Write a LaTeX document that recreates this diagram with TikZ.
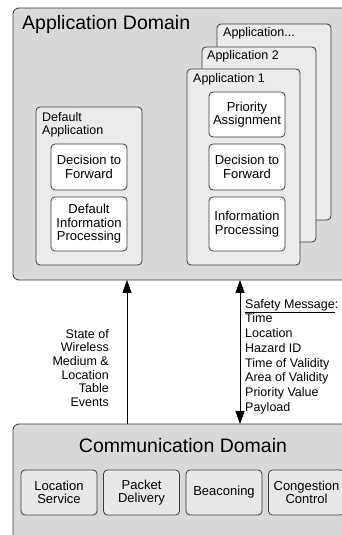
\documentclass[tikz,border=0pt]{standalone}
\usepackage{fontspec}
\setmainfont{Liberation Sans}
\usepackage{tikz}
\usetikzlibrary{arrows.meta,positioning}
\definecolor{domgrey}{RGB}{216,216,216}
\definecolor{appgrey}{RGB}{235,235,235}
\definecolor{commgrey}{RGB}{232,232,232}
\definecolor{edgegrey}{RGB}{60,60,60}
\tikzset{
  flow/.style={-{Triangle[length=13pt,width=9pt]}, line width=0.9pt, draw=black},
  twoflow/.style={flow, {Triangle[length=13pt,width=9pt]}-{Triangle[length=13pt,width=9pt]}},
  domainbox/.style={
    draw=edgegrey,
    line width=0.8pt,
    rounded corners=6pt,
    fill=domgrey,
    inner sep=0pt,
    outer sep=0pt,
    anchor=north west
  },
  appbox/.style={domainbox, fill=appgrey, rounded corners=4pt},
  funcbox/.style={
    draw=edgegrey,
    line width=0.8pt,
    rounded corners=4pt,
    fill=white,
    align=center,
    inner sep=0pt,
    outer sep=0pt,
    minimum width=76pt,
    font=\fontsize{13}{13.6}\selectfont
  },
  commbox/.style={funcbox, fill=commgrey, minimum height=45pt},
  bigtitle/.style={font=\fontsize{19.5}{22}\selectfont, inner sep=0pt},
  applabel/.style={font=\fontsize{12.5}{13}\selectfont, inner sep=0pt, align=left},
  sidelabel/.style={font=\fontsize{12.5}{13.6}\selectfont, inner sep=0pt}
}
\begin{document}
\begin{tikzpicture}[x=1pt,y=1pt,node distance=6.5pt]
  \useasboundingbox (0,0) rectangle (342,535);

  % application domain
  \node[domainbox,minimum width=340pt,minimum height=272pt] (appdom) at (13,527) {};
  \node[bigtitle,anchor=base west] (appdomlbl) at (22,505) {Application Domain};

  \node[appbox,minimum width=114pt,minimum height=196pt] (appdots) at (217,511) {};
  \node[applabel,anchor=base west] (appdotslbl) at (223,498) {Application...};
  \node[appbox,minimum width=114pt,minimum height=195pt] (apptwo) at (202,488) {};
  \node[applabel,anchor=base west] (apptwolbl) at (207,475) {Application 2};
  \node[appbox,minimum width=113pt,minimum height=196pt] (appone) at (187,466) {};
  \node[applabel,anchor=base west] (apponelbl) at (193,452) {Application 1};

  \node[funcbox,minimum height=45pt,anchor=north west] (prio) at (209,443) {Priority\\Assignment};
  \node[funcbox,minimum height=46pt,below=7pt of prio] (dec) {Decision to\\Forward};
  \node[funcbox,minimum height=54pt,below=7pt of dec] (proc) {Information\\Processing};

  \node[appbox,minimum width=106pt,minimum height=158pt] (defapp) at (36,428) {};
  \node[applabel,anchor=north west] (defapplbl) at (42,423) {Default\\Application};
  \node[funcbox,minimum height=46pt,anchor=north west] (defdec) at (51,391) {Decision to\\Forward};
  \node[funcbox,minimum height=54pt,below=7pt of defdec] (defproc) {Default\\Information\\Processing};

  % communication domain
  \node[domainbox,minimum width=340pt,minimum height=121pt] (commdom) at (13,111) {};
  \node[bigtitle,anchor=base] (commdomlbl) at (183,82) {Communication Domain};
  \node[commbox,anchor=north west] (locsvc) at (21,65) {Location\\Service};
  \node[commbox,right=of locsvc] (pktdel) {Packet\\Delivery};
  \node[commbox,right=of pktdel] (beacon) {Beaconing};
  \node[commbox,right=of beacon] (congctl) {Congestion\\Control};

  % interfaces
  \draw[flow] (commdom.north -| defdec.east) -- (appdom.south -| defdec.east);
  \draw[twoflow] ([xshift=-3.5pt]appdom.south -| appone.south) -- ([xshift=-3.5pt]commdom.north -| appone.south);

  \node[sidelabel,align=right,anchor=north east] (eventlbl) at (109,206)
    {State of\\Wireless\\Medium \&\\Location\\Table\\Events};
  \node[sidelabel,align=left,anchor=north west,font=\fontsize{12.5}{14.7}\selectfont] (msglbl) at (245,236)
    {\underline{Safety Message}:\\Time\\Location\\Hazard ID\\Time of Validity\\Area of Validity\\Priority Value\\Payload};
\end{tikzpicture}
\end{document}
